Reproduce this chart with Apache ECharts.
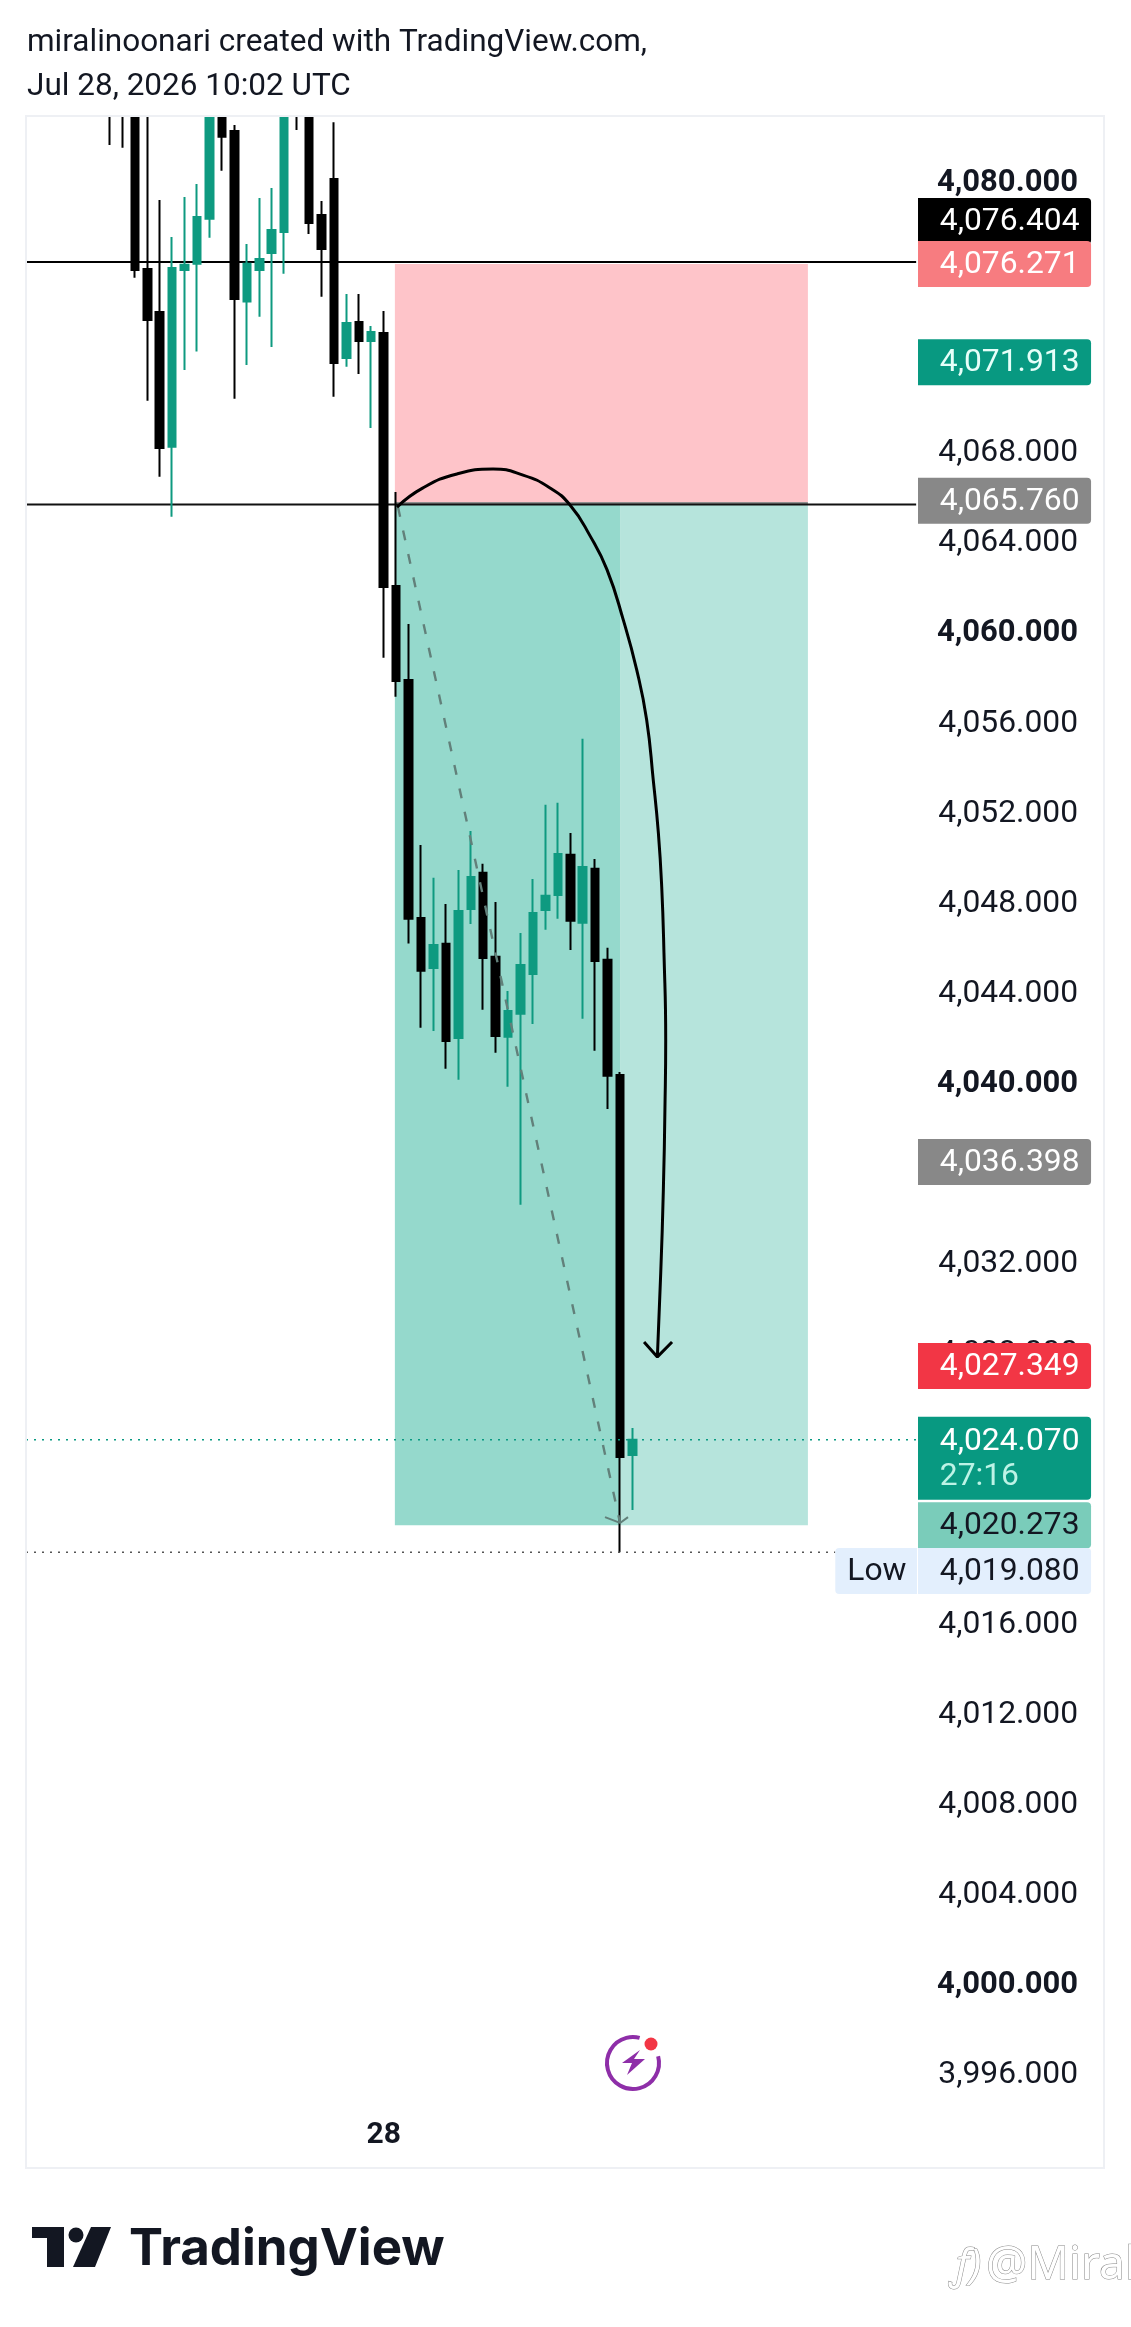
<!DOCTYPE html>
<html>
<head>
<meta charset="utf-8">
<style>html,body{margin:0;padding:0;background:#fff}#c{width:1131px;height:2327px}</style>
<script src="https://cdn.jsdelivr.net/npm/echarts@6/dist/echarts.min.js"></script>
</head>
<body>
<div id="c"></div>
<script>
const headerText = "miralinoonari created with TradingView.com,\nJul 28, 2026 10:02 UTC";
const opens  = [4090,4090,4088,4076.05,4074.14,4068.16,4076.00,4076.28,4078.28,4085,4082.17,4074.60,4076.00,4076.76,4077.69,4090,4086,4078.44,4080.04,4072.10,4073.69,4072.85,4073.21,4061.97,4057.80,4047.24,4045.02,4046.09,4041.91,4047.64,4049.24,4045.51,4041.96,4042.98,4044.75,4047.59,4048.26,4050.04,4047.02,4049.42,4045.38,4040.27,4023.40];
const closes = [4087,4087,4076.00,4073.78,4068.10,4076.09,4076.24,4078.36,4086,4081.92,4074.72,4076.28,4076.49,4077.78,4087,4088,4078.09,4076.94,4071.87,4073.65,4072.85,4073.25,4061.93,4057.76,4047.20,4044.89,4046.04,4041.78,4047.55,4049.06,4045.46,4042.00,4043.11,4045.15,4047.46,4048.22,4050.08,4047.11,4049.50,4045.33,4040.23,4023.31,4024.07];
const lows   = [4081.55,4081.43,4075.66,4070.20,4066.83,4065.05,4071.56,4072.38,4077.44,4080.41,4070.29,4071.79,4073.93,4072.58,4075.84,4082.22,4077.60,4074.82,4070.38,4071.71,4071.39,4068.99,4058.79,4057.06,4046.10,4042.36,4042.22,4040.54,4040.05,4046.97,4043.16,4041.25,4039.74,4034.50,4042.53,4046.71,4047.20,4045.82,4042.76,4041.34,4038.76,4019.08,4020.95];
const highs  = [4092,4092,4090,4086,4079.11,4077.47,4079.24,4079.82,4088,4087,4082.44,4077.16,4079.20,4079.64,4089,4091,4088,4079.07,4082.56,4074.94,4074.94,4073.52,4074.18,4066.15,4060.29,4050.48,4049.02,4047.86,4049.37,4051.10,4049.64,4047.95,4044.00,4046.57,4048.97,4052.26,4052.35,4051.01,4055.19,4049.86,4045.91,4040.40,4024.59];
const tickLabels = [4080,4068,4064,4060,4056,4052,4048,4044,4040,4032,4028,4016,4012,4008,4004,4000,3996];
const boldTicks  = [4080,4060,4040,4000];
const timeTickBar = 22, timeTickText = "28";

const stopPrice = 4076.271, entryTop = 4065.70, entryBottom = 4065.57, targetPrice = 4020.273;
const zoneBars = [22.9, 41.0, 56.1];
const lineStartBar = -6.75, lineEndBar = 64.8, lowLineEndBar = 58.3;
const levelUpper = 4076.36, levelLower = 4065.59, lastPrice = 4024.07, lowPrice = 4019.08;

const curveBars   = [23.07,25.16,27.89,30.79,33.20,35.37,36.98,38.59,39.95,41.26,42.34,43.14,43.67,44.08,44.35,44.53,44.67,44.61,44.48,44.27,44.00];
const curvePrices = [4065.48,4066.33,4066.95,4067.17,4066.90,4066.33,4065.57,4064.20,4062.70,4060.47,4058.25,4056.03,4053.36,4051.01,4048.61,4045.68,4041.82,4038.85,4035.16,4031.48,4027.75];
const curveHeadBars = [42.93,44.00,45.18], curveHeadPrices = [4028.41,4027.75,4028.41];
const dashBars = [23.15,41.0], dashPrices = [4065.48,4020.38];
const dashHeadBars = [39.79,41.0,41.64], dashHeadPrices = [4020.64,4020.38,4020.64];

const tagTexts   = ["4,076.404","4,076.271","4,071.913","4,065.760","4,036.398","4,027.349","4,024.070","4,020.273","4,019.080"];
const tagAnchors = [4078.18,4076.271,4071.913,4065.76,4036.398,4027.349,4024.07,4020.273,4018.25];
const tagFills   = ["#000000","#f77c80","#089981","#888888","#888888","#f23645","#089981","#7accba","#e3effd"];
const tagInks    = ["#ffffff","#ffffff","#e6fff9","#ffffff","#ffffff","#ffffff","#ffffff","#131722","#131722"];
const countdown = "27:16", lowWord = "Low";
const tagBars = [64.95, 78.86], tagTextBar = 66.7, lowTagBar = 58.3;

const fontName = "Roboto";
const zoneRows = [
  [zoneBars[0], zoneBars[2], stopPrice, entryTop, "#fec4c9"],
  [zoneBars[0], zoneBars[2], entryTop, entryBottom, "#8f8f8f"],
  [zoneBars[0], zoneBars[1], entryBottom, targetPrice, "#95d9cc"],
  [zoneBars[1], zoneBars[2], entryBottom, targetPrice, "#b6e4dc"]
];
const pairs = (xs, ys) => xs.map((x, i) => [x, ys[i]]);
const lineSeries = (data, style, z, extra) => Object.assign({
  type: "line", data, showSymbol: false, silent: true, z, clip: true, lineStyle: style
}, extra || {});

const chart = echarts.init(document.getElementById("c"), null, {renderer: "canvas"});
chart.setOption({
  animation: false,
  backgroundColor: "#ffffff",
  title: {
    text: headerText, left: 27, top: 21, padding: 0, z: 30,
    textStyle: {fontFamily: fontName, fontSize: 31.5, fontWeight: "normal", lineHeight: 44, color: "#131722"}
  },
  grid: {left: 26, right: 27, top: 116, bottom: 164.8},
  xAxis: {
    type: "value", min: -6.75, max: 79.9,
    axisLine: {show: false}, axisTick: {show: false}, splitLine: {show: false},
    axisLabel: {
      inside: true, margin: 12, customValues: [timeTickBar], formatter: () => timeTickText,
      fontFamily: fontName, fontSize: 30, fontWeight: "bold", color: "#131722"
    }
  },
  yAxis: {
    type: "value", position: "right", min: 3992, max: 4082.84, interval: 4,
    axisLine: {show: false}, axisTick: {show: false}, splitLine: {show: false},
    axisLabel: {
      inside: true, margin: 26, align: "right", padding: [6, 0, 0, 0],
      formatter: v => {
        if (!tickLabels.includes(v)) return "";
        const s = v.toLocaleString("en-US", {minimumFractionDigits: 3, maximumFractionDigits: 3});
        return boldTicks.includes(v) ? "{b|" + s + "}" : "{r|" + s + "}";
      },
      rich: {
        b: {fontFamily: fontName, fontSize: 31, fontWeight: "bold", color: "#131722"},
        r: {fontFamily: fontName, fontSize: 31.8, color: "#131722"}
      }
    }
  },
  series: [
    {
      type: "custom", z: 1, silent: true, clip: true, data: zoneRows.map((r, i) => [i]),
      renderItem: (p, api) => {
        const r = zoneRows[api.value(0)];
        const a = api.coord([r[0], r[2]]), b = api.coord([r[1], r[3]]);
        return {type: "rect", shape: {x: a[0], y: a[1], width: b[0] - a[0], height: b[1] - a[1]}, style: {fill: r[4]}};
      }
    },
    lineSeries([[lineStartBar, levelUpper], [lineEndBar, levelUpper]], {color: "#000", width: 2}, 2),
    lineSeries([[lineStartBar, levelLower], [lineEndBar, levelLower]], {color: "#111", width: 2}, 2),
    {
      type: "candlestick", z: 3, barWidth: 8,
      encode: {x: 0, y: [1, 2, 3, 4]},
      data: opens.map((o, i) => [i, o, closes[i], lows[i], highs[i]]),
      itemStyle: {color: "#0e9a80", color0: "#000000", borderColor: "#0e9a80", borderColor0: "#000000", borderWidth: 2}
    },
    lineSeries([[lineStartBar, lastPrice], [lineEndBar, lastPrice]], {color: "#089981", width: 1.6, type: [2, 6]}, 4),
    lineSeries([[lineStartBar, lowPrice], [lowLineEndBar, lowPrice]], {color: "#555", width: 1.6, type: [2, 6]}, 4),
    lineSeries(pairs(dashBars, dashPrices), {color: "#62807a", width: 2.4, type: [10, 14]}, 4),
    lineSeries(pairs(dashHeadBars, dashHeadPrices), {color: "#62807a", width: 2}, 4),
    lineSeries(pairs(curveBars, curvePrices), {color: "#000", width: 3}, 5, {smooth: 0.5}),
    lineSeries(pairs(curveHeadBars, curveHeadPrices), {color: "#000", width: 3}, 5),
    {
      type: "custom", z: 6, silent: true, clip: false, data: tagTexts.map((t, i) => [i]),
      renderItem: (p, api) => {
        const i = api.value(0), isLast = tagTexts[i] === "4,024.070", isLow = i === tagTexts.length - 1;
        const l = api.coord([tagBars[0], tagAnchors[i]]), r = api.coord([tagBars[1], tagAnchors[i]]);
        const tx = api.coord([tagTextBar, tagAnchors[i]])[0];
        const h = isLast ? 83 : 46, top = l[1] - 23;
        const font = "31.8px " + fontName;
        const ty = l[1] + (isLast ? 2 : 1);
        const kids = [
          {type: "rect", shape: {x: l[0], y: top, width: r[0] - l[0], height: h, r: [0, 4, 4, 0]}, style: {fill: tagFills[i]}},
          {type: "text", style: {x: tx, y: ty, text: tagTexts[i], font, fill: tagInks[i], align: "left", verticalAlign: "middle"}}
        ];
        if (isLast) kids.push({type: "text", style: {x: tx, y: l[1] + 37, text: countdown, font, fill: "#bdf3e6", align: "left", verticalAlign: "middle"}});
        if (isLow) {
          const lx = api.coord([lowTagBar, tagAnchors[i]])[0];
          kids.push({type: "rect", shape: {x: lx, y: top, width: l[0] - lx - 1, height: h, r: [4, 0, 0, 4]}, style: {fill: tagFills[i]}});
          kids.push({type: "text", style: {x: lx + 12, y: l[1] + 1, text: lowWord, font, fill: tagInks[i], align: "left", verticalAlign: "middle"}});
        }
        return {type: "group", children: kids};
      }
    }
  ],
  graphic: [
    {type: "rect", z: 10, silent: true, shape: {x: 0, y: 0, width: 1131, height: 115}, style: {fill: "#ffffff"}},
    {type: "rect", z: 11, silent: true, shape: {x: 26, y: 116, width: 1078, height: 2052}, style: {fill: "none", stroke: "#eef0f4", lineWidth: 2}},
    {type: "arc", z: 20, silent: true, shape: {cx: 633, cy: 2063, r: 26, startAngle: -0.26, endAngle: 4.97, clockwise: true}, style: {fill: "none", stroke: "#8e2ea8", lineWidth: 4}},
    {type: "polygon", z: 20, silent: true, shape: {points: [[640,2050],[622,2063],[632,2063],[627,2075],[645,2059],[634,2059]]}, style: {fill: "#8e2ea8"}},
    {type: "circle", z: 20, silent: true, shape: {cx: 651, cy: 2044, r: 6.5}, style: {fill: "#f23645"}},
    {type: "polygon", z: 20, silent: true, shape: {points: [[32,2227],[64,2227],[64,2267],[47,2267],[47,2238],[32,2238]]}, style: {fill: "#131722"}},
    {type: "circle", z: 20, silent: true, shape: {cx: 76, cy: 2235, r: 7.5}, style: {fill: "#131722"}},
    {type: "polygon", z: 20, silent: true, shape: {points: [[91,2227],[111,2227],[95,2267],[73,2267]]}, style: {fill: "#131722"}},
    {type: "text", z: 20, silent: true, style: {x: 129, y: 2250, text: "TradingView", font: "bold 51px Inter", fill: "#131722", align: "left", verticalAlign: "middle"}},
    {type: "text", z: 20, silent: true, style: {x: 952, y: 2267, text: "\u0192)", font: "italic 42px 'Noto Sans'", fill: "#ffffff", stroke: "#888", lineWidth: 1, align: "left", verticalAlign: "middle"}},
    {type: "text", z: 20, silent: true, style: {x: 986, y: 2266, text: "@Miral", font: "46px 'Noto Sans'", fill: "#ffffff", stroke: "#888", lineWidth: 1, align: "left", verticalAlign: "middle"}}
  ]
});
</script>
</body>
</html>
